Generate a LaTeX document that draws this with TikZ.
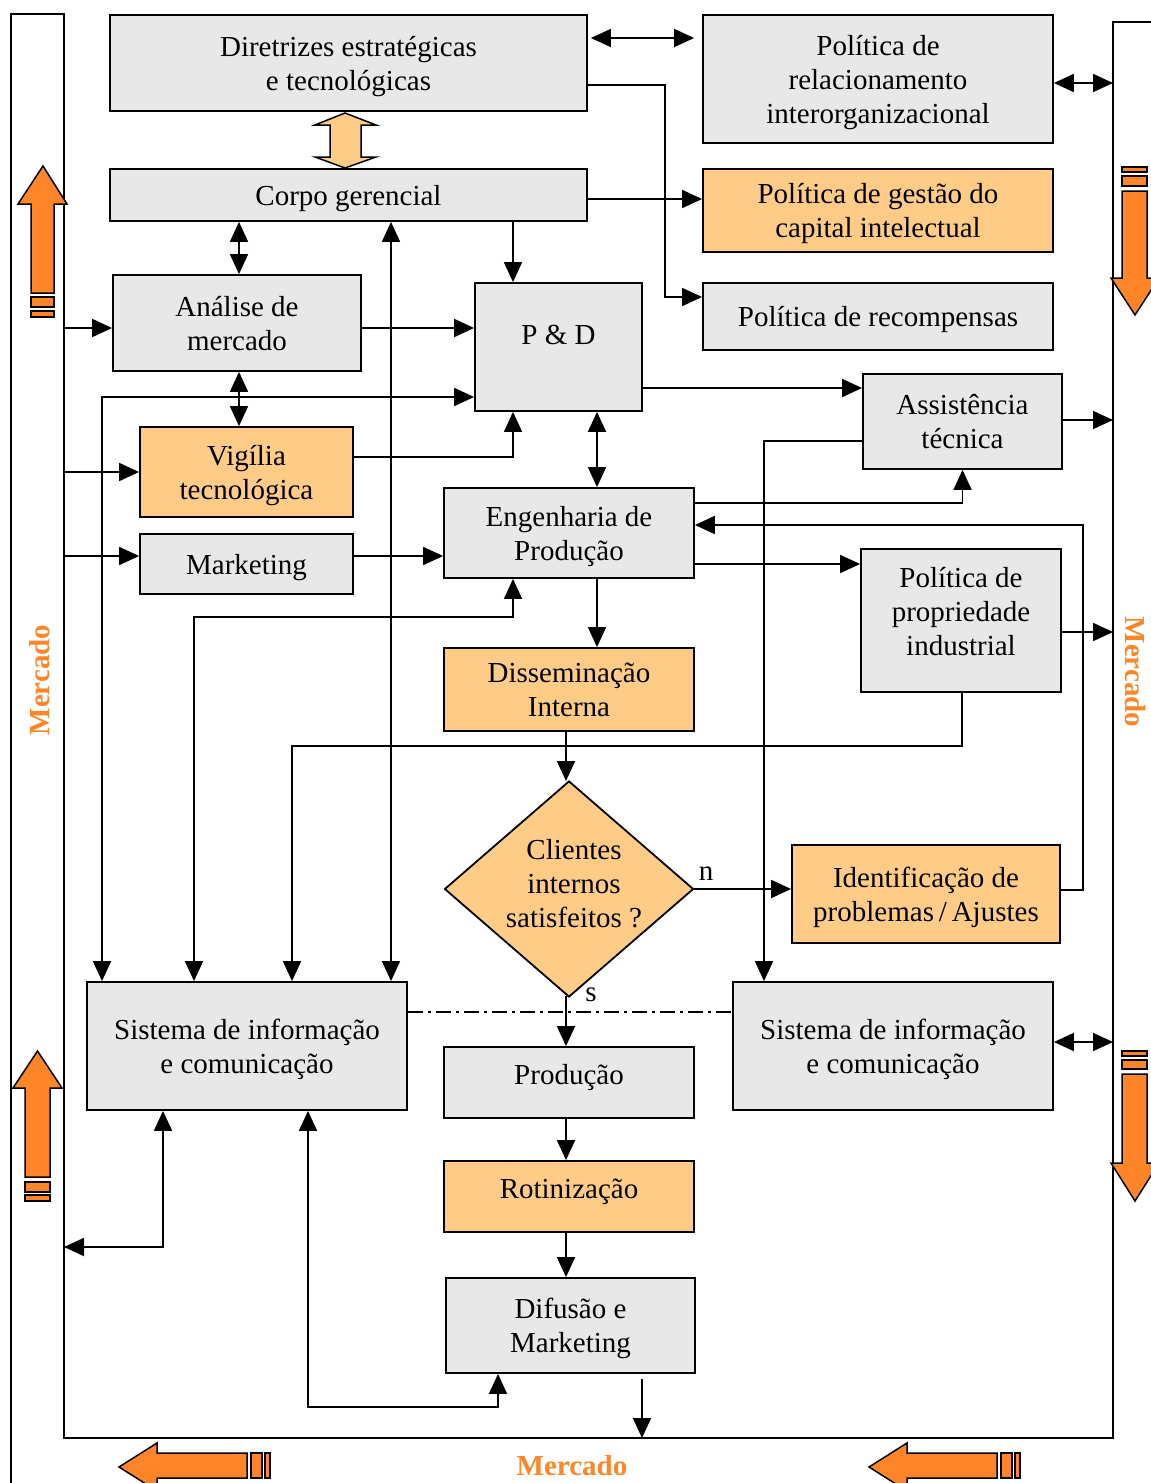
\documentclass[tikz,border=0pt]{standalone}
\usepackage{fontspec}
\setmainfont{Liberation Serif}
\usetikzlibrary{arrows.meta,shapes.geometric}
\definecolor{boxgrey}{RGB}{232,232,232}
\definecolor{lightor}{RGB}{255,204,136}
\definecolor{strongor}{RGB}{255,133,40}

\begin{document}
\begin{tikzpicture}[x=1pt,y=-1pt,
  line width=1.8pt,
  every node/.style={font=\fontsize{29}{34}\selectfont},
  gbox/.style={draw,fill=boxgrey,rectangle,inner sep=0pt,align=center,text depth=0pt},
  obox/.style={gbox,fill=lightor},
  conn/.style={-{Triangle[length=20pt,width=18pt]}},
  dconn/.style={{Triangle[length=20pt,width=18pt]}-{Triangle[length=20pt,width=18pt]}},
  bigarrow/.style={draw,fill=strongor,line width=1.5pt,line join=miter},
  mkt/.style={text=strongor,font=\fontsize{29}{34}\selectfont\bfseries},
]
\useasboundingbox (0,0) rectangle (1151,1483);
\clip (0,0) rectangle (1151,1483);

% market frame
\draw (11,1500) -- (11,14) -- (64,14) -- (64,1438) -- (1113,1438) -- (1113,22) -- (1160,22);
\coordinate (inL) at (64,0);
\coordinate (inR) at (1113,0);
\coordinate (inB) at (0,1438);

% boxes
\node[gbox,minimum width=477pt,minimum height=96pt] (Dir) at (348.5,63) {Diretrizes estratégicas\\e tecnológicas};
\node[gbox,minimum width=350pt,minimum height=128pt] (PolRel) at (878,79) {Política de\\relacionamento\\interorganizacional};
\node[gbox,minimum width=477pt,minimum height=52pt] (Corpo) at (348.5,195) {Corpo gerencial};
\node[obox,minimum width=350pt,minimum height=83pt] (PolGest) at (878,210.5) {Política de gestão do\\capital intelectual};
\node[gbox,minimum width=248pt,minimum height=96pt] (Analise) at (237,323) {Análise de\\mercado};
\node[gbox,minimum width=167pt,minimum height=128pt,label={[yshift=12pt]center:P \& D}] (PD) at (558.5,347) {};
\node[gbox,minimum width=350pt,minimum height=67pt] (PolRec) at (878,316.5) {Política de recompensas};
\node[gbox,minimum width=199pt,minimum height=95pt] (Assist) at (962.5,421.5) {Assistência\\técnica};
\node[obox,minimum width=213pt,minimum height=90pt] (Vigilia) at (246.5,472) {Vigília\\tecnológica};
\node[gbox,minimum width=250pt,minimum height=90pt] (EngProd) at (569,533) {Engenharia de\\Produção};
\node[gbox,minimum width=213pt,minimum height=60pt] (Marketing) at (246.5,564) {Marketing};
\node[gbox,minimum width=200pt,minimum height=143pt,label={[yshift=9pt,align=center]center:Política de\\propriedade\\industrial}] (PolProp) at (961,620.5) {};
\node[obox,minimum width=250pt,minimum height=83pt] (Dissem) at (569,689.5) {Disseminação\\Interna};
\node[draw,fill=lightor,diamond,inner sep=0pt,minimum width=249pt,minimum height=216pt,
      label={[xshift=5pt,yshift=5pt,align=center]center:Clientes\\internos\\satisfeitos ?}] (Diamond) at (569,889) {};
\node[obox,minimum width=268pt,minimum height=98pt] (IdProb) at (926,894) {Identificação de\\problemas\,/\,Ajustes};
\node[gbox,minimum width=320pt,minimum height=128pt] (SisL) at (247,1046) {Sistema de informação\\e comunicação};
\node[gbox,minimum width=320pt,minimum height=128pt] (SisR) at (893,1046) {Sistema de informação\\e comunicação};
\node[gbox,minimum width=250pt,minimum height=71pt,label={[yshift=5pt]center:Produção}] (Producao) at (569,1082.5) {};
\node[obox,minimum width=250pt,minimum height=71pt,label={[yshift=5pt]center:Rotinização}] (Rotin) at (569,1196.5) {};
\node[gbox,minimum width=249pt,minimum height=95pt] (Difusao) at (570.5,1325.5) {Difusão e\\Marketing};

% hollow double arrow between strategy and management
\draw[fill=lightor,line width=1.5pt] (345,113) -- (376,125) -- (361,125) -- (361,157) -- (376,157)
  -- (345,168) -- (315,157) -- (330,157) -- (330,125) -- (315,125) -- cycle;

% connectors
\draw[dconn,shorten <=3pt,shorten >=8pt] (Dir.east |- 0,38) -- (PolRel.west |- 0,38);
\draw[conn] (Dir.east |- 0,85) -- (665,85) |- (PolRec.west |- 0,297);
\draw[dconn] (PolRel.east |- 0,83) -- (inR |- 0,83);
\draw[conn] (Corpo.east |- 0,199) -- (PolGest.west |- 0,199);
\draw[dconn] (Corpo.south -| 239,0) -- (Analise.north -| 239,0);
\draw[conn] (Corpo.south -| 513,0) -- (PD.north -| 513,0);
\draw[dconn] (Corpo.south -| 391,0) -- (SisL.north -| 391,0);
\draw[conn] (Analise.east |- 0,328) -- (PD.west |- 0,328);
\draw[conn] (inL |- 0,328) -- (Analise.west |- 0,328);
\draw[dconn] (Analise.south -| 239,0) -- (Vigilia.north -| 239,0);
\draw[dconn] (SisL.north -| 102,0) -- (102,397) -- (PD.west |- 0,397);
\draw[conn] (Vigilia.east |- 0,457) -| (PD.south -| 513,0);
\draw[conn] (inL |- 0,472) -- (Vigilia.west |- 0,472);
\draw[dconn] (PD.south -| 597,0) -- (EngProd.north -| 597,0);
\draw[conn] (PD.east |- 0,388) -- (Assist.west |- 0,388);
\draw[conn] (Assist.east |- 0,420) -- (inR |- 0,420);
\draw[conn] (Assist.west |- 0,441) -| (SisR.north -| 764,0);
\draw[conn] (EngProd.east |- 0,503) -| (Assist.south);
\draw[conn] (IdProb.east |- 0,890) -- (1083,890) |- (EngProd.east |- 0,525);
\draw[conn] (EngProd.east |- 0,564) -- (PolProp.west |- 0,564);
\draw[conn] (PolProp.east |- 0,632) -- (inR |- 0,632);
\draw[conn] (inL |- 0,556) -- (Marketing.west |- 0,556);
\draw[conn] (Marketing.east |- 0,556) -- (EngProd.west |- 0,556);
\draw[dconn] (SisL.north -| 194,0) |- (513,617) -- (EngProd.south -| 513,0);
\draw[conn] (EngProd.south -| 597,0) -- (Dissem.north -| 597,0);
\draw[conn] (Dissem.south -| 566,0) -- (566,781);
\draw[conn] (PolProp.south -| 962,0) -- (962,746) -| (SisL.north -| 292,0);
\draw[conn] (Diamond.east) -- (IdProb.west |- Diamond.east);
\node (lblN) at (706,874) {n};
\draw[conn] (566,996) -- (Producao.north -| 566,0);
\node (lblS) at (591,995) {s};
\draw[line width=1.5pt,dash pattern=on 15pt off 5pt on 3pt off 5pt] (SisL.east |- 0,1012) -- (SisR.west |- 0,1012);
\draw[dconn] (SisR.east |- 0,1042) -- (inR |- 0,1042);
\draw[conn] (Producao.south -| 566,0) -- (Rotin.north -| 566,0);
\draw[conn] (Rotin.south -| 566,0) -- (Difusao.north -| 566,0);
\draw[dconn] (SisL.south -| 163,0) |- (inL |- 0,1247);
\draw[dconn] (Difusao.south -| 498,0) |- (308,1407) -- (SisL.south -| 308,0);
\draw[conn,shorten <=5pt] (Difusao.south -| 642,0) -- (inB -| 642,0);

% big market arrows
\draw[bigarrow] (43,166) -- (67,204) -- (54,204) -- (54,293) -- (31,293) -- (31,204) -- (18,204) -- cycle;
\draw[bigarrow] (31,297) rectangle (54,307);
\draw[bigarrow] (31,311) rectangle (54,317);
\draw[bigarrow] (37.5,1051) -- (62,1088) -- (50,1088) -- (50,1177) -- (25,1177) -- (25,1088) -- (13,1088) -- cycle;
\draw[bigarrow] (25,1182) rectangle (50,1192);
\draw[bigarrow] (25,1195) rectangle (50,1201);
\draw[bigarrow] (1135,315) -- (1159,278) -- (1147,278) -- (1147,191) -- (1122,191) -- (1122,278) -- (1111,278) -- cycle;
\draw[bigarrow] (1122,176) rectangle (1147,186);
\draw[bigarrow] (1122,167) rectangle (1147,172);
\draw[bigarrow] (1135,1201) -- (1159,1163) -- (1147,1163) -- (1147,1074) -- (1122,1074) -- (1122,1163) -- (1111,1163) -- cycle;
\draw[bigarrow] (1122,1060) rectangle (1147,1069);
\draw[bigarrow] (1122,1051) rectangle (1147,1056);
\draw[bigarrow] (119,1467) -- (157,1443) -- (157,1453) -- (247,1453) -- (247,1478) -- (157,1478) -- (157,1491) -- cycle;
\draw[bigarrow] (251,1453) rectangle (262,1478);
\draw[bigarrow] (265,1453) rectangle (270,1478);
\draw[bigarrow] (869,1467) -- (907,1443) -- (907,1453) -- (997,1453) -- (997,1478) -- (907,1478) -- (907,1491) -- cycle;
\draw[bigarrow] (1001,1453) rectangle (1012,1478);
\draw[bigarrow] (1015,1453) rectangle (1020,1478);

% market labels
\node[mkt,rotate=90] (mktL) at (40,680) {Mercado};
\node[mkt,rotate=-90] (mktR) at (1135,672) {Mercado};
\node[mkt] (mktB) at (572,1466) {Mercado};
\end{tikzpicture}
\end{document}
